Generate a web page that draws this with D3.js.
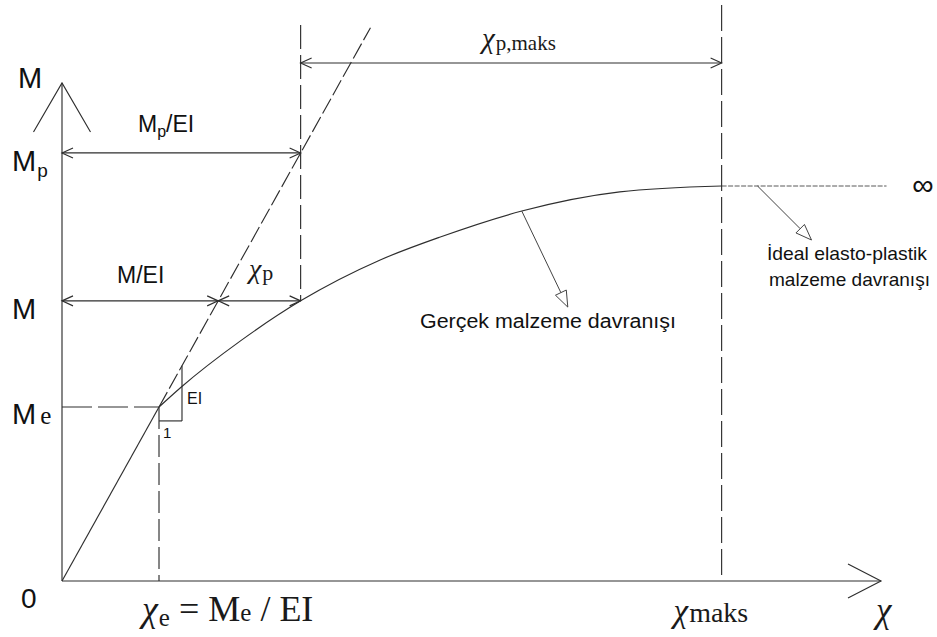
<!DOCTYPE html>
<html>
<head>
<meta charset="utf-8">
<script src="https://cdn.jsdelivr.net/npm/d3@7"></script>
<style>
  html, body { margin: 0; padding: 0; background: #fff; }
  svg { display: block; }
  .sans  { font-family: "Liberation Sans", Arial, sans-serif; fill: #111; }
  .serif { font-family: "Liberation Serif", "Times New Roman", serif; fill: #1a1a1a; }
  .chi   { font-family: "Liberation Serif", "Times New Roman", serif; font-style: italic; }
</style>
</head>
<body>
<svg id="chart" width="937" height="637"></svg>
<script>
// Moment–curvature relation of the real material (units: EI = 1)
const chiValues    = [1.00, 1.23, 1.84, 2.46, 3.28, 3.90, 4.74, 5.75, 6.80];
const momentValues = [1.00, 1.115, 1.38, 1.61, 1.845, 1.977, 2.126, 2.236, 2.27];
const EI = 1.0;
// Moment levels marked on the M axis: Me, M, Mp
const momentLevels = [1.00, 1.61, 2.46];
const momentMain   = ["M", "M", "M"];
const momentSub    = ["e", "", "p"];
// Maximum curvature and end of the ideal plastic plateau
const chiMax = 6.80;
const plateauEnd = 8.50;

const [Me, Mm, Mp] = momentLevels;
const chiE = Me / EI;

const svg = d3.select("#chart");
const ink = "#2e2e2e";

const x = d3.scaleLinear().domain([0, 8.443]).range([62, 881]);
const y = d3.scaleLinear().domain([0, 2.862]).range([581, 83]);

const g = svg.append("g")
  .attr("fill", "none")
  .attr("stroke", ink)
  .attr("stroke-width", 1.15)
  .attr("stroke-linecap", "butt");

function seg(x1, y1, x2, y2, dash, w) {
  const l = g.append("line")
    .attr("x1", x1).attr("y1", y1).attr("x2", x2).attr("y2", y2);
  if (dash) l.attr("stroke-dasharray", dash);
  if (w) l.attr("stroke-width", w);
  return l;
}

// ---- axes with open arrow heads
const yTop = y.domain()[1];
const xEnd = x.domain()[1];
seg(x(0), y(0), x(0), y(yTop));
g.append("path").attr("d", `M${x(0) - 28.5},${y(yTop) + 49}L${x(0)},${y(yTop)}L${x(0) + 28.5},${y(yTop) + 49}`);
seg(x(0), y(0), x(xEnd), y(0));
g.append("path").attr("d", `M${x(xEnd) - 33},${y(0) - 17}L${x(xEnd)},${y(0)}L${x(xEnd) - 33},${y(0) + 17}`);

// ---- elastic branch (solid up to Me, dashed beyond)
seg(x(0), y(0), x(chiE), y(Me));
const elasticTop = 3.18;
seg(x(chiE), y(Me), x(elasticTop / EI), y(elasticTop), "17,4");

// ---- real material curve
const curvePts = chiValues.map((c, i) => [c, momentValues[i]]);
g.append("path")
  .datum(curvePts)
  .attr("d", d3.line().x(d => x(d[0])).y(d => y(d[1])).curve(d3.curveMonotoneX));

// ---- ideal plastic plateau (infinite)
const plateauM = momentValues[momentValues.length - 1];
seg(x(chiMax), y(plateauM), x(plateauEnd), y(plateauM), "5,1.5", 0.8);

// ---- guide lines
seg(x(0), y(Me), x(chiE), y(Me), "30,6");
seg(x(chiE), y(Me), x(chiE), y(0), "22,6");
const chiAtM = chiValues[3];
seg(x(Mp / EI), y(3.195), x(Mp / EI), y(Mm), "24,6");
seg(x(chiMax), y(3.31), x(chiMax), y(0), "26,6");

// ---- dimension arrows
function chevron(px, py, dir) {
  g.append("path").attr("d", `M${px - dir * 11},${py - 5}L${px},${py}L${px - dir * 11},${py + 5}`);
}
function dimension(py, xa, xb) {
  seg(xa, py, xb, py);
  chevron(xa, py, -1);
  chevron(xb, py, 1);
}
dimension(y(Mp), x(0), x(Mp / EI));
dimension(y(Mm), x(0), x(Mm / EI));
dimension(y(Mm), x(Mm / EI), x(chiAtM));
const topDimM = 2.977;
dimension(y(topDimM), x(Mp / EI), x(chiMax));

// ---- slope triangle (EI : 1)
const triBase = 0.92, triChi = chiE + 0.237;
seg(x(chiE), y(triBase), x(triChi), y(triBase));
seg(x(triChi), y(triBase), x(triChi), y(triChi * EI));

// ---- leader arrows with open triangular heads
function pointer(x1, y1, x2, y2) {
  const a = Math.atan2(y2 - y1, x2 - x1);
  const L = 16, W = 6;
  const bx = x2 - L * Math.cos(a), by = y2 - L * Math.sin(a);
  seg(x1, y1, bx, by, null, 0.9);
  const nx = -Math.sin(a) * W, ny = Math.cos(a) * W;
  g.append("path")
    .attr("d", `M${x2},${y2}L${bx + nx},${by + ny}L${bx - nx},${by - ny}Z`)
    .attr("fill", "#fff").attr("stroke-width", 0.9);
}
pointer(x(chiValues[6]), y(momentValues[6]), x(chiValues[6]) + 46, y(momentValues[6]) + 96);
pointer(x(7.17), y(plateauM), x(7.17) + 54, y(plateauM) + 54);

// ---- text
const T = svg.append("g");

function sans(tx, ty, s, size, extra) {
  const t = T.append("text").attr("class", "sans").attr("x", tx).attr("y", ty)
    .attr("font-size", size).text(s);
  if (extra) extra(t);
  return t;
}

// M axis label and origin
sans(18, 88, "M", 29);
sans(21, 608, "0", 28);

// moment level labels
momentLevels.forEach((m, i) => {
  const base = y(m) + 18 + (i === 0 ? -1 : 0);
  const t = T.append("text").attr("class", "sans").attr("x", 12).attr("y", base).attr("font-size", 29);
  t.append("tspan").text(momentMain[i]);
  if (momentSub[i] === "e") {
    t.append("tspan").attr("font-family", "Liberation Serif, serif")
      .attr("font-size", 25).attr("dx", 4).text("e");
  } else if (momentSub[i] === "p") {
    t.append("tspan").attr("font-size", 19).attr("dx", 1).attr("dy", 6).text("p");
  }
});

// dimension labels
{
  const t = T.append("text").attr("class", "sans").attr("x", 138).attr("y", 132).attr("font-size", 23);
  t.append("tspan").text("M");
  t.append("tspan").attr("font-size", 16).attr("dy", 5).text("p");
  t.append("tspan").attr("dy", -5).text("/EI");
}
sans(117, 283, "M/EI", 23);
{
  const t = T.append("text").attr("class", "serif").attr("x", 249).attr("y", 278).attr("font-size", 28);
  t.append("tspan").attr("class", "chi").text("χ");
  t.append("tspan").attr("font-size", 22).attr("dx", 1).attr("dy", 2).text("p");
}
{
  const t = T.append("text").attr("class", "serif").attr("x", 482).attr("y", 48).attr("font-size", 29);
  t.append("tspan").attr("class", "chi").text("χ");
  t.append("tspan").attr("font-size", 21).attr("dx", 1).attr("dy", 2).text("p,maks");
}

// slope triangle labels
sans(187, 404, "EI", 16);
sans(163, 438, "1", 15);

// curve labels
sans(420, 328, "Gerçek malzeme davranışı", 20, t => t.attr("textLength", 256).attr("lengthAdjust", "spacingAndGlyphs"));
sans(767, 260, "İdeal elasto-plastik", 19, t => t.attr("textLength", 160).attr("lengthAdjust", "spacingAndGlyphs"));
sans(769, 286, "malzeme davranışı", 19, t => t.attr("textLength", 161).attr("lengthAdjust", "spacingAndGlyphs"));
T.append("text").attr("class", "sans").attr("x", 923).attr("y", 195)
  .attr("text-anchor", "middle").attr("font-size", 30).text("∞");

// curvature axis labels
{
  const t = T.append("text").attr("class", "serif").attr("x", x(chiE) - 17).attr("y", 621).attr("font-size", 36);
  t.append("tspan").attr("class", "chi").text("χ");
  t.append("tspan").attr("font-size", 25).attr("dx", 1).attr("dy", 5).text("e");
  t.append("tspan").attr("dy", -5).text(" = M");
  t.append("tspan").attr("font-size", 25).text("e");
  t.append("tspan").text(" / EI");
}
{
  const t = T.append("text").attr("class", "serif").attr("x", x(chiMax) - 48).attr("y", 622).attr("font-size", 33);
  t.append("tspan").attr("class", "chi").text("χ");
  t.append("tspan").attr("font-size", 28).attr("dx", 1).text("maks");
}
T.append("text").attr("class", "chi").attr("x", 876).attr("y", 622).attr("font-size", 35).attr("fill", "#1a1a1a").text("χ");
</script>
</body>
</html>
